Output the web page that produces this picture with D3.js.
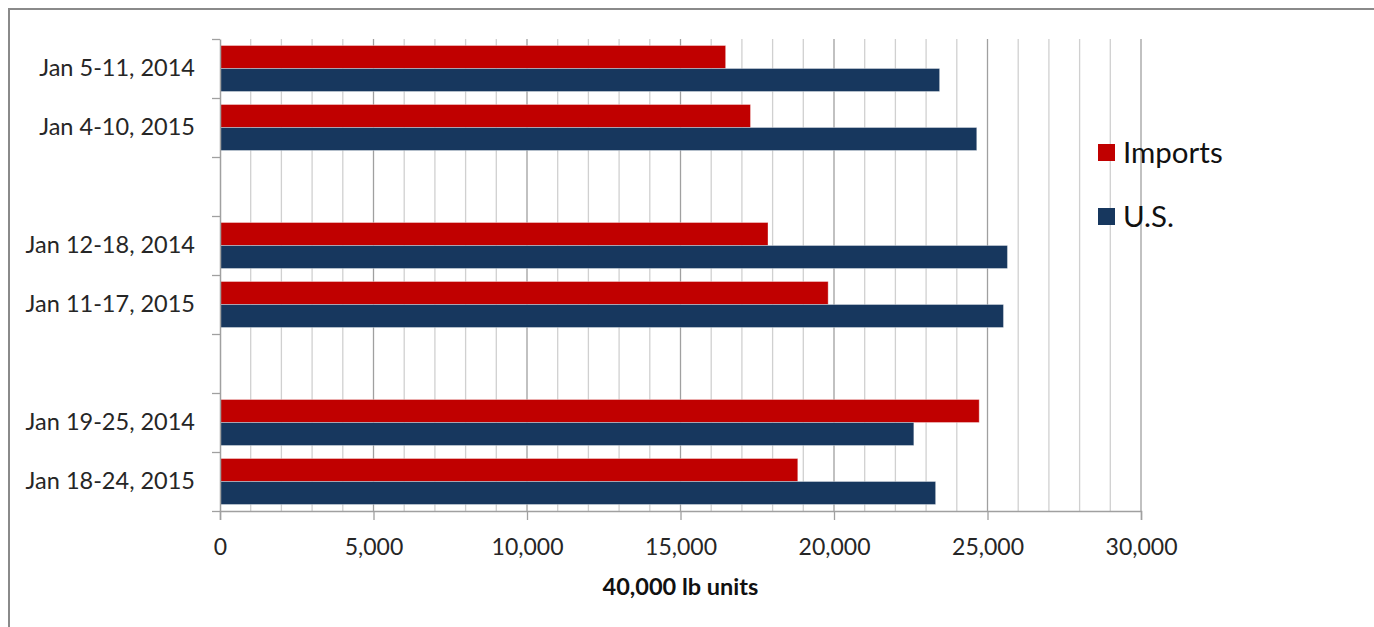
<!DOCTYPE html>
<html>
<head>
<meta charset="utf-8">
<script src="https://cdn.jsdelivr.net/npm/d3@7"></script>
<style>
  body { margin: 0; background: #fff; }
  svg { display: block; font-family: Lato, "Open Sans", sans-serif; }
</style>
</head>
<body>
<div id="barchart"></div>
<script>
// data (blank rows are the gaps between week pairs)
var rowLabels = ["Jan 5-11, 2014", "Jan 4-10, 2015", "", "Jan 12-18, 2014", "Jan 11-17, 2015", "", "Jan 19-25, 2014", "Jan 18-24, 2015"];
var importsValues = [16470, 17280, null, 17850, 19810, null, 24730, 18820];
var usValues = [23440, 24650, null, 25650, 25520, null, 22600, 23310];
var seriesNames = ["Imports", "U.S."];
var seriesColors = ["#C00000", "#17375E"];
var xTickValues = [0, 5000, 10000, 15000, 20000, 25000, 30000];
var xTitle = "40,000 lb units";

// set the dimensions and margins of the graph
var margin = {top: 39, right: 233, bottom: 116, left: 220},
    width = 1374 - margin.left - margin.right,
    height = 627 - margin.top - margin.bottom;

var svg = d3.select("#barchart")
  .append("svg")
  .attr("width", 1374)
  .attr("height", 627);

// outer frame
svg.append("rect")
  .attr("x", 9).attr("y", 9)
  .attr("width", 1400).attr("height", 700)
  .attr("fill", "none")
  .attr("stroke", "#8a8a8a")
  .attr("stroke-width", 2);

var g = svg.append("g")
  .attr("transform", "translate(" + margin.left + "," + margin.top + ")");

// scales
var x = d3.scaleLinear()
  .domain([0, 30000])
  .range([0, width]);

var y = d3.scaleBand()
  .domain(d3.range(rowLabels.length))
  .range([0, height]);

var ySeries = d3.scaleBand()
  .domain(seriesNames)
  .range([0, y.bandwidth()])
  .paddingInner(0)
  .paddingOuter(0.283);

// gridlines, minor every 1,000 and major every 5,000
var gridVals = d3.range(1000, 30001, 1000);
g.selectAll(".grid")
  .data(gridVals)
  .enter()
  .append("line")
  .attr("x1", function(d) { return x(d); })
  .attr("x2", function(d) { return x(d); })
  .attr("y1", 0)
  .attr("y2", height)
  .attr("stroke", function(d) { return d % 5000 === 0 ? "#a0a0a0" : "#d0d0d0"; })
  .attr("stroke-width", 1.3);

// bars
var rows = rowLabels.map(function(label, i) {
  return {i: i, values: [importsValues[i], usValues[i]]};
}).filter(function(r) { return r.values[0] != null; });

var rowG = g.selectAll(".row")
  .data(rows)
  .enter()
  .append("g")
  .attr("transform", function(d) { return "translate(0," + y(d.i) + ")"; });

rowG.selectAll("rect")
  .data(function(d) { return d.values.map(function(v, k) { return {name: seriesNames[k], value: v, k: k}; }); })
  .enter()
  .append("rect")
  .attr("x", x(0))
  .attr("y", function(d) { return ySeries(d.name); })
  .attr("width", function(d) { return x(d.value); })
  .attr("height", ySeries.bandwidth())
  .attr("fill", function(d) { return seriesColors[d.k]; })
  .attr("stroke", "#ffffff")
  .attr("stroke-opacity", 0.35)
  .attr("stroke-width", 1);

// X axis
var xAxis = g.append("g")
  .attr("transform", "translate(0," + height + ")")
  .call(d3.axisBottom(x)
    .tickValues(xTickValues)
    .tickSize(9)
    .tickPadding(19)
    .tickFormat(d3.format(",")));
xAxis.attr("font-family", null).attr("font-size", null);
xAxis.select(".domain").attr("stroke", "#a0a0a0").attr("stroke-width", 1.5);
xAxis.selectAll(".tick line").attr("stroke", "#a0a0a0").attr("stroke-width", 1.3);
xAxis.selectAll("text")
  .attr("fill", "#262626")
  .style("font-size", "23px");

// Y axis: labels centred on rows, ticks on row boundaries
var yEdges = d3.scaleLinear().domain([0, rowLabels.length]).range([0, height]);
var yTicks = g.append("g")
  .call(d3.axisLeft(yEdges)
    .ticks(rowLabels.length)
    .tickSize(8)
    .tickSizeOuter(0)
    .tickFormat(""));
yTicks.select(".domain").attr("stroke", "#a0a0a0").attr("stroke-width", 1.5);
yTicks.selectAll(".tick line").attr("stroke", "#a0a0a0").attr("stroke-width", 1.3);

var yAxis = g.append("g")
  .call(d3.axisLeft(y)
    .tickSize(0)
    .tickPadding(25)
    .tickFormat(function(i) { return rowLabels[i]; }));
yAxis.attr("font-family", null).attr("font-size", null);
yAxis.select(".domain").remove();
yAxis.selectAll("text")
  .attr("fill", "#262626")
  .style("font-size", "23.5px");

// axis title
g.append("text")
  .attr("x", width / 2)
  .attr("y", height + 84)
  .attr("text-anchor", "middle")
  .style("font-size", "23.5px")
  .style("font-weight", "bold")
  .attr("fill", "#111")
  .text(xTitle);

// legend
var legend = svg.append("g")
  .attr("transform", "translate(1098,144)");
var item = legend.selectAll(".item")
  .data(seriesNames)
  .enter()
  .append("g")
  .attr("transform", function(d, i) { return "translate(0," + (i * 64) + ")"; });
item.append("rect")
  .attr("width", 17)
  .attr("height", 17)
  .attr("fill", function(d, i) { return seriesColors[i]; });
item.append("text")
  .attr("x", 25)
  .attr("y", 9)
  .attr("dy", "0.35em")
  .style("font-size", "29.5px")
  .attr("fill", "#111")
  .text(function(d) { return d; });
</script>
</body>
</html>
